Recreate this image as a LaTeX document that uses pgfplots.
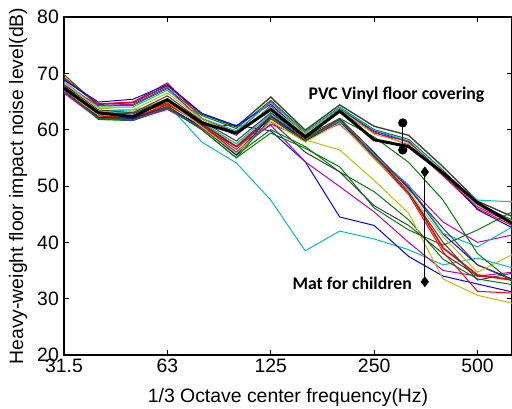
\documentclass[border=0pt]{standalone}
\usepackage{fontspec}
\setmainfont{Liberation Sans}
\newfontfamily\annotfont{Carlito}
\usepackage{pgfplots}
\usepackage{pgfplotstable}
\pgfplotsset{compat=1.18}
\definecolor{mb}{rgb}{0,0,1}
\definecolor{mg}{rgb}{0,0.5,0}
\definecolor{mr}{rgb}{1,0,0}
\definecolor{mc}{rgb}{0,0.75,0.75}
\definecolor{mm}{rgb}{0.75,0,0.75}
\definecolor{my}{rgb}{0.75,0.75,0}
\definecolor{mk}{rgb}{0.25,0.25,0.25}
\pgfplotstableread{
x  L1   L2   L3   L4   L5   L6   L7   M1   M2   M3   M4   M5   M6   M7   M8   M9   P1   P2   P3   P4   P5   P6   P7   K
0  67.0 67.6 66.5 67.3 67.0 67.8 67.5 67.0 67.2 66.8 66.6 67.5 68.0 66.9 67.0 67.8 69.0 69.8 69.3 68.8 68.5 68.0 68.3 67.4
1  63.3 62.2 61.9 61.8 62.0 63.0 62.8 62.5 62.8 62.2 62.0 63.2 63.5 62.6 62.0 63.0 64.5 64.2 64.6 64.9 64.0 64.3 63.8 63.0
2  63.5 62.0 61.7 61.6 61.9 63.2 62.5 62.0 62.5 62.0 61.7 63.0 63.0 62.8 61.8 62.8 64.8 64.3 64.9 65.4 64.0 64.5 63.5 62.3
3  64.5 63.9 63.6 63.8 64.2 65.5 64.8 64.5 64.8 64.0 63.7 65.0 66.0 65.0 64.0 65.5 67.8 67.3 68.3 68.0 67.0 67.5 66.5 65.3
4  57.8 60.6 60.3 60.0 60.3 61.0 60.8 61.0 60.8 60.5 60.2 61.3 61.5 60.5 60.0 61.0 62.8 62.5 62.0 62.9 62.0 61.5 61.8 61.2
5  54.1 60.8 57.0 55.0 55.5 57.5 56.0 57.0 56.5 55.5 56.0 57.5 58.0 55.8 55.0 57.0 60.5 60.2 59.5 60.7 59.8 59.0 59.2 59.4
6  47.5 59.8 60.8 59.4 60.0 62.0 61.5 62.0 62.3 62.5 61.0 62.8 63.0 61.5 62.0 62.5 65.8 65.2 65.0 64.5 64.8 64.2 64.0 63.6
7  38.5 54.3 54.3 56.7 57.0 58.2 56.0 58.0 58.3 58.0 58.5 58.6 58.8 57.8 58.0 58.5 59.9 59.6 59.3 59.0 59.5 58.9 59.2 58.7
8  42.0 44.5 49.9 53.4 52.5 56.4 52.5 61.8 61.5 61.3 61.0 61.6 62.0 61.2 62.0 61.8 64.4 64.0 63.5 63.7 63.9 63.2 63.6 63.3
9  40.6 43.0 45.4 46.1 49.0 51.0 46.5 55.5 55.0 55.8 55.2 55.6 56.0 54.8 58.7 55.3 60.6 60.0 59.6 59.8 59.9 59.4 59.2 58.2
10 38.7 37.5 40.0 42.2 44.0 45.2 43.0 49.0 48.5 49.8 50.0 50.2 49.5 49.0 54.2 48.8 59.0 58.3 57.3 57.8 58.0 57.9 57.5 57.0
11 36.0 34.0 35.0 39.5 37.0 33.5 38.0 39.0 38.3 41.5 43.6 41.6 42.5 41.0 47.5 40.0 53.4 52.8 51.8 52.4 52.0 51.9 52.2 52.3
12 37.2 32.6 34.0 42.2 33.5 30.6 34.0 34.2 31.3 36.0 40.0 39.2 36.0 34.7 38.0 33.3 47.3 46.8 46.0 45.8 47.5 46.3 46.5 47.0
13 35.5 31.2 34.7 45.4 32.5 29.2 33.5 33.3 31.0 33.5 41.3 42.7 33.3 37.8 33.0 34.5 44.6 44.0 43.0 42.6 47.2 43.4 43.8 43.4
}\data
\newcommand{\lbl}{\fontsize{19.4bp}{23bp}\selectfont}
\begin{document}
\begin{tikzpicture}
\begin{axis}[
 width=448bp, height=338bp, scale only axis,
 xmin=0, xmax=13, ymin=20, ymax=80,
 xtick={0,3,6,9,12}, xticklabels={31.5,63,125,250,500},
 ytick={20,30,...,80},
 tick align=inside, major tick length=5bp,
 axis line style={line width=1.5bp},
 every tick/.style={black, line width=0.8bp},
 /pgf/number format/assume math mode=true,
 tick label style={font=\lbl},
 label style={font=\lbl},
 yticklabel style={anchor=east, inner sep=0pt, xshift=-5bp},
 xticklabel style={anchor=north, inner sep=0pt, yshift=-4bp},
 xlabel={1/3 Octave center frequency(Hz)},
 ylabel={Heavy-weight floor impact noise level(dB)},
 xlabel style={at={(axis description cs:0.5,-0.142)}, anchor=base},
 ylabel style={at={(axis description cs:-0.0915,0.5)}, anchor=base},
 every axis plot/.append style={line width=1bp, mark=none},
]
\addplot[mc] table[x=x,y=L1]{\data};
\addplot[mb] table[x=x,y=L2]{\data};
\addplot[mm] table[x=x,y=L3]{\data};
\addplot[mg] table[x=x,y=L4]{\data};
\addplot[mg] table[x=x,y=L5]{\data};
\addplot[my] table[x=x,y=L6]{\data};
\addplot[mk] table[x=x,y=L7]{\data};
\addplot[mr, line width=1.6bp] table[x=x,y=M1]{\data};
\addplot[mr] table[x=x,y=M2]{\data};
\addplot[mb] table[x=x,y=M3]{\data};
\addplot[mm] table[x=x,y=M4]{\data};
\addplot[mc] table[x=x,y=M5]{\data};
\addplot[mk] table[x=x,y=M6]{\data};
\addplot[my] table[x=x,y=M7]{\data};
\addplot[mg] table[x=x,y=M8]{\data};
\addplot[mk] table[x=x,y=M9]{\data};
\addplot[mk, line width=1.4bp] table[x=x,y=P1]{\data};
\addplot[mg] table[x=x,y=P2]{\data};
\addplot[mr] table[x=x,y=P3]{\data};
\addplot[mb] table[x=x,y=P4]{\data};
\addplot[mc] table[x=x,y=P5]{\data};
\addplot[mm] table[x=x,y=P6]{\data};
\addplot[my] table[x=x,y=P7]{\data};
\addplot[black, line width=3bp] table[x=x,y=K]{\data};
\addplot[black, line width=1.2bp, mark=*, mark size=4bp] coordinates {(9.83,61.2) (9.83,56.4)};
\addplot[black, line width=1.2bp, mark=diamond*, mark size=4.5bp] coordinates {(10.47,52.5) (10.47,33.0)};
\node[font=\annotfont\bfseries\fontsize{17.75bp}{20bp}\selectfont] at (axis cs:9.65,66.2) {PVC Vinyl floor covering};
\node[font=\annotfont\bfseries\fontsize{17.75bp}{20bp}\selectfont, anchor=east, inner sep=0pt] at (axis cs:10.10,32.8) {Mat for children};
\end{axis}
\pgfresetboundingbox
\path ([shift={(-64bp,-54bp)}]current axis.south west) rectangle ([shift={(0bp,17bp)}]current axis.north east);
\end{tikzpicture}
\end{document}
